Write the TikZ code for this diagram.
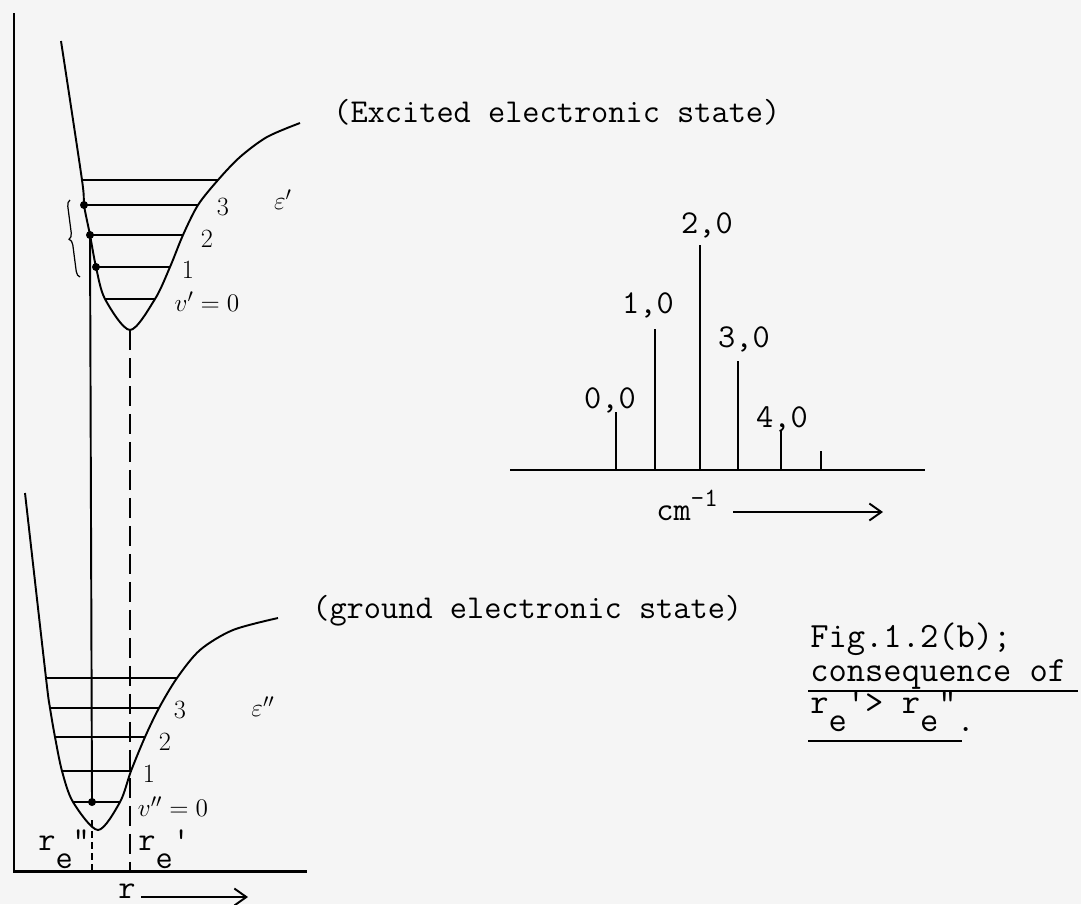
\documentclass[tikz,border=0pt]{standalone}
\usepackage{amsmath, amssymb}
\usepackage{fontspec}
\usepackage{tikz}
\usetikzlibrary{positioning,arrows.meta,decorations.pathreplacing}

\newcommand{\lowsub}[1]{\raisebox{-0.36cm}{#1}}

\begin{document}
\begin{tikzpicture}[
    x=0.02cm, y=-0.02cm,
    >={Straight Barb[length=0.24cm,width=0.34cm]},
    every node/.style={inner sep=0pt},
    mono/.style={font=\fontsize{19}{22}\selectfont\ttfamily},
    figcap/.style={font=\fontsize{20.2}{24}\selectfont\ttfamily},
    num/.style={font=\fontsize{15}{17}\selectfont},
    curve/.style={line width=1.1pt},
    level/.style={line width=0.9pt},
    axis/.style={line width=1.7pt},
    spec/.style={line width=1.4pt},
    longdash/.style={line width=1.1pt, dash pattern=on 0.4cm off 0.16cm},
    shortdash/.style={line width=1.4pt, dash pattern=on 0.14cm off 0.08cm},
  ]
  \fill[black!4] (0,0) rectangle (1081,904);
  \useasboundingbox (0,0) rectangle (1081,904);

  % Axes
  \coordinate (ytop) at (14,13);
  \coordinate (orig) at (14,871);
  \coordinate (xend) at (307,871);
  \draw[axis] (ytop) -- (orig) -- (xend);
  \node[mono, anchor=base, inner xsep=3pt] (r) at (127,898) {r};
  \coordinate (rtip) at (248,897);
  \draw[->, line width=1.1pt] (r.east |- rtip) -- (rtip);

  % Excited state
  \draw[curve] plot[smooth] coordinates {(61,41) (82,180) (84,205) (90,235) (96,267) (105,299)
    (130,330) (155,299) (170,267) (183,235) (198,205) (218,180) (240,157) (267,137) (300,123)};
  \foreach \y/\a/\b in {180/82/218, 205/84/198, 235/90/183, 267/96/170, 299/105/155}
    \draw[level] (\a,\y) -- (\b,\y);
  \coordinate (u3) at (84,205);
  \coordinate (u2) at (90,235);
  \coordinate (u1) at (96,267);
  \foreach \p in {u3,u2,u1} \fill (\p) circle (4);
  \draw[decorate, decoration={brace, amplitude=0.12cm}, line width=0.7pt] (80,277) -- (70,200);
  \node[num] (n3u) at (223,207) {3};
  \node[num] (n2u) at (207,239) {2};
  \node[num] (n1u) at (188,270) {1};
  \node[num] (n0u) at (207,302) {$v'=0$};
  \node[num] (epsu) at (283,200) {$\varepsilon'$};
  \node[mono, anchor=base west] (exc) at (333,122) {(Excited electronic state)};

  % Ground state
  \draw[curve] plot[smooth] coordinates {(25,493) (46,678) (50,708) (55,737) (62,771) (73,802)
    (98,830) (120,802) (131,771) (145,737) (159,708) (177,678) (200,650) (233,630) (278,618)};
  \foreach \y/\a/\b in {678/46/177, 708/50/159, 737/55/145, 771/62/131, 802/73/120}
    \draw[level] (\a,\y) -- (\b,\y);
  \coordinate (g0) at (92,802);
  \fill (g0) circle (4);
  \node[num] (n3g) at (180,710) {3};
  \node[num] (n2g) at (165,742) {2};
  \node[num] (n1g) at (149,774) {1};
  \node[num] (n0g) at (173,807) {$v''=0$};
  \node[num] (epsg) at (263,707) {$\varepsilon''$};
  \node[mono, anchor=base west] (gnd) at (312,618) {(ground electronic state)};

  % Vertical transition and r_e marks
  \draw[curve] (u2) -- (g0);
  \coordinate (umin) at (130,330);
  \coordinate (re1) at (130,871);
  \draw[longdash] (umin) -- (re1);
  \coordinate (gmin) at (92,820);
  \coordinate (re2) at (92,871);
  \draw[shortdash] (gmin) -- (re2);
  \node[mono, anchor=base west] (lre2) at (38,850) {r\lowsub{e}"};
  \node[mono, anchor=base west] (lre1) at (138,850) {r\lowsub{e}'};

  % Spectrum
  \coordinate (s0) at (510,470);
  \coordinate (s1) at (925,470);
  \draw[spec] (s0) -- (s1);
  \foreach \x/\t in {616/412, 655/329, 700/245, 738/361, 781/431, 821/451}
    \draw[spec] (\x,470) -- (\x,\t);
  \node[mono, anchor=base] (l00) at (610,408) {0,0};
  \node[mono, anchor=base] (l10) at (648,313) {1,0};
  \node[mono, anchor=base] (l20) at (707,233) {2,0};
  \node[mono, anchor=base] (l30) at (744,347) {3,0};
  \node[mono, anchor=base] (l40) at (782,427) {4,0};
  \node[mono, anchor=base west] (cm) at (656,520) {cm\raisebox{0.28cm}{\fontsize{15}{17}\selectfont-1}};
  \coordinate (cmtip) at (883,512);
  \draw[->, line width=1.1pt, shorten <=0.3cm] (cm.east |- cmtip) -- (cmtip);

  % Caption
  \node[figcap, anchor=base west] (fig) at (810,647) {Fig.1.2(b);};
  \node[figcap, anchor=base west] (cons) at (810,681) {consequence of};
  \node[figcap, anchor=base west] (rel) at (810,713) {r\lowsub{e}'> r\lowsub{e}"\lowsub{.}};
  \draw[line width=1pt] (808,691) -- (1078,691);
  \draw[line width=1pt] (808,741) -- (962,741);
\end{tikzpicture}
\end{document}
